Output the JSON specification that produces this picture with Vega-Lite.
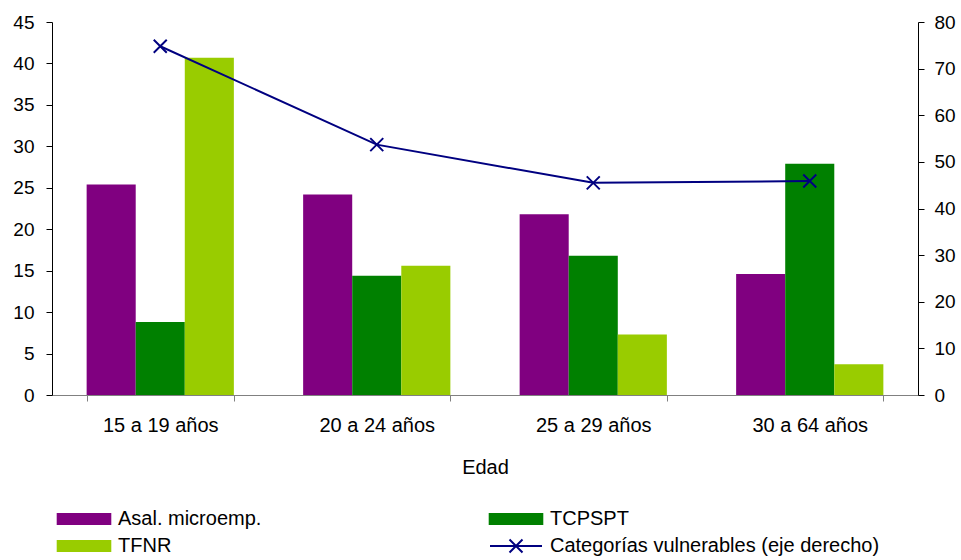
{
  "$schema": "https://vega.github.io/schema/vega-lite/v6.json",
  "width": 866,
  "height": 373,
  "autosize": {"type": "none"},
  "padding": {"left": 52, "top": 22, "right": 43, "bottom": 165},
  "config": {
    "view": {"stroke": null},
    "font": "Liberation Sans",
    "axis": {
      "labelFont": "Liberation Sans",
      "labelFontSize": 19,
      "labelColor": "#000000",
      "titleFont": "Liberation Sans",
      "titleFontSize": 20,
      "titleFontWeight": "normal",
      "titleColor": "#000000",
      "grid": false
    }
  },
  "datasets": {
    "barras": [
      {"edad": "15 a 19 años", "serie": "Asal. microemp.", "valor": 25.4},
      {"edad": "15 a 19 años", "serie": "TCPSPT", "valor": 8.8},
      {"edad": "15 a 19 años", "serie": "TFNR", "valor": 40.7},
      {"edad": "20 a 24 años", "serie": "Asal. microemp.", "valor": 24.2},
      {"edad": "20 a 24 años", "serie": "TCPSPT", "valor": 14.4},
      {"edad": "20 a 24 años", "serie": "TFNR", "valor": 15.6},
      {"edad": "25 a 29 años", "serie": "Asal. microemp.", "valor": 21.8},
      {"edad": "25 a 29 años", "serie": "TCPSPT", "valor": 16.8},
      {"edad": "25 a 29 años", "serie": "TFNR", "valor": 7.3},
      {"edad": "30 a 64 años", "serie": "Asal. microemp.", "valor": 14.6},
      {"edad": "30 a 64 años", "serie": "TCPSPT", "valor": 27.9},
      {"edad": "30 a 64 años", "serie": "TFNR", "valor": 3.7}
    ],
    "linea": [
      {"edad": "15 a 19 años", "valor": 74.8},
      {"edad": "20 a 24 años", "valor": 53.7},
      {"edad": "25 a 29 años", "valor": 45.5},
      {"edad": "30 a 64 años", "valor": 45.9}
    ]
  },
  "layer": [
    {
      "data": {"name": "barras"},
      "mark": {"type": "bar"},
      "encoding": {
        "x": {
          "field": "edad",
          "type": "nominal",
          "sort": ["15 a 19 años", "20 a 24 años", "25 a 29 años", "30 a 64 años"],
          "scale": {"paddingInner": 0.32, "paddingOuter": 0.16},
          "axis": {
            "title": "Edad",
            "labelAngle": 0,
            "labelFontSize": 20,
            "tickBand": "extent",
            "tickSize": 6,
            "domainColor": "#808080",
            "tickColor": "#808080",
            "labelPadding": 14,
            "titlePadding": 22
          }
        },
        "xOffset": {
          "field": "serie",
          "type": "nominal",
          "sort": ["Asal. microemp.", "TCPSPT", "TFNR"]
        },
        "y": {
          "field": "valor",
          "type": "quantitative",
          "scale": {"domain": [0, 45], "nice": false},
          "axis": {
            "title": null,
            "values": [0, 5, 10, 15, 20, 25, 30, 35, 40, 45],
            "tickSize": 6,
            "domainColor": "#000000",
            "tickColor": "#000000",
            "labelPadding": 12
          }
        },
        "color": {
          "field": "serie",
          "type": "nominal",
          "scale": {
            "domain": ["Asal. microemp.", "TFNR", "TCPSPT", "Categorías vulnerables (eje derecho)"],
            "range": ["#800080", "#99CC00", "#008000", "#000080"]
          },
          "legend": {
            "title": null,
            "orient": "none",
            "legendX": 18,
            "legendY": 483,
            "columns": 2,
            "symbolSize": 676,
            "symbolType": "M-2.1,-0.46H2.1V0.46H-2.1Z",
            "labelFont": "Liberation Sans",
            "labelFontSize": 20,
            "labelColor": "#000000",
            "labelOffset": 20,
            "labelLimit": 500,
            "rowPadding": 3,
            "columnPadding": 222,
            "encode": {
              "symbols": {
                "update": {
                  "shape": {"signal": "datum.value === 'Categorías vulnerables (eje derecho)' ? 'M-2,0H2M-0.5,-0.5L0.5,0.5M-0.5,0.5L0.5,-0.5' : 'M-2.1,-0.46H2.1V0.46H-2.1Z'"},
                  "fill": {"signal": "datum.value === 'Categorías vulnerables (eje derecho)' ? 'transparent' : scale('color', datum.value)"},
                  "stroke": {"signal": "datum.value === 'Categorías vulnerables (eje derecho)' ? '#000080' : 'transparent'"},
                  "strokeWidth": {"value": 2},
                  "opacity": {"value": 1}
                }
              }
            }
          }
        }
      }
    },
    {
      "data": {"name": "linea"},
      "encoding": {
        "x": {
          "field": "edad",
          "type": "nominal",
          "sort": ["15 a 19 años", "20 a 24 años", "25 a 29 años", "30 a 64 años"],
          "axis": {
            "title": "Edad",
            "labelAngle": 0,
            "labelFontSize": 20,
            "tickBand": "extent",
            "tickSize": 6,
            "domainColor": "#808080",
            "tickColor": "#808080",
            "labelPadding": 14,
            "titlePadding": 22
          }
        },
        "y": {
          "field": "valor",
          "type": "quantitative",
          "scale": {"domain": [0, 80], "nice": false},
          "axis": {
            "orient": "right",
            "title": null,
            "values": [0, 10, 20, 30, 40, 50, 60, 70, 80],
            "tickSize": 6,
            "domainColor": "#000000",
            "tickColor": "#000000",
            "labelPadding": 10
          }
        }
      },
      "layer": [
        {"mark": {"type": "line", "color": "#000080", "strokeWidth": 2}},
        {"mark": {"type": "point", "shape": "M-1,-1L1,1M-1,1L1,-1", "size": 169, "filled": false, "stroke": "#000080", "strokeWidth": 2, "opacity": 1}}
      ]
    }
  ],
  "resolve": {"scale": {"y": "independent"}}
}
